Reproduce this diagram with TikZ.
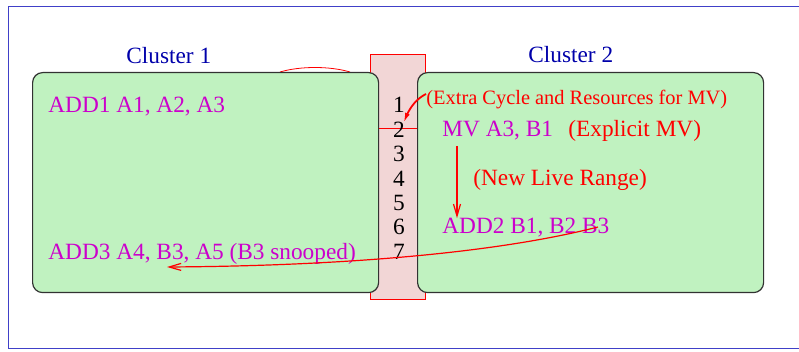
\documentclass[tikz,border=0pt]{standalone}
\usepackage{fontspec}
\setmainfont{Liberation Serif}
\usetikzlibrary{arrows.meta,bending}
\definecolor{clgreen}{RGB}{192,242,192}
\definecolor{regpink}{RGB}{242,214,214}
\definecolor{opmag}{RGB}{204,0,204}
\definecolor{cltitle}{RGB}{0,0,170}
\definecolor{framecol}{RGB}{64,64,200}
\definecolor{boxedge}{RGB}{50,50,50}
\begin{document}
\begin{tikzpicture}[x=0.5pt,y=-0.5pt,
  txt/.style={inner sep=0pt, anchor=base west, font=\fontsize{11.65}{14}\selectfont},
  op/.style={txt, text=opmag},
  note/.style={txt, text=red},
  title/.style={txt, text=cltitle},
  num/.style={inner sep=0pt, anchor=base, font=\fontsize{11.65}{14}\selectfont},
  cluster/.style={draw=boxedge, line width=0.6pt, fill=clgreen, rounded corners=5pt,
    inner sep=0pt, anchor=north west, minimum width=173pt, minimum height=110pt},
  flow/.style={red, line width=0.6pt, -{Straight Barb[length=6pt,width=3.5pt]}},
]
\useasboundingbox (0,0) rectangle (799,352);
% outer frame
\draw[framecol, line width=0.5pt] (8,7) rectangle (830,349);
% register bar between the clusters
\draw[red, fill=regpink, line width=0.5pt] (370,55) rectangle (425,300);
\draw[red, line width=0.4pt] (280,72) .. controls (300,66) and (330,66) .. (350,72);
% clusters
\node[cluster] (c1) at (32,72) {};
\node[cluster] (c2) at (417,72) {};
\draw[red, line width=0.5pt] (c1.east |- 0,129) -- (c2.west |- 0,129);
% cycle numbers
\foreach \i in {1,...,7}
  \node[num] (n\i) at (399, {113+24.4*(\i-1)}) {\i};
% titles
\node[title] (t1) at (126,64) {Cluster 1};
\node[title] (t2) at (528,63) {Cluster 2};
% instructions and notes
\node[op] (add1) at (48,113) {ADD1 A1, A2, A3};
\node[op] (add3) at (48,260) {ADD3 A4, B3, A5 (B3 snooped)};
\node[note, font=\fontsize{10.2}{12}\selectfont] (extra) at (426,105) {(Extra Cycle and Resources for MV)};
\node[op] (mv) at (442,137) {MV A3, B1};
\node[note] (expl) at (568,137) {(Explicit MV)};
\node[note] (live) at (473,186) {(New Live Range)};
\node[op] (add2) at (442,234) {ADD2 B1, B2 B3};
% connectors
\draw[flow] ([yshift=-2.5pt]mv.south -| 457,0) -- (add2.north -| 457,0);
\coordinate (snoopFrom) at (598,227);
\coordinate (snoopTo) at (167,267);
\draw[flow] (snoopFrom) .. controls (500,252) and (350,266) .. (snoopTo);
\coordinate (extraFrom) at (426,94);
\coordinate (extraTo) at (404,123);
\draw[red, line width=0.9pt, -{Latex[length=5pt,width=2.5pt,bend]}]
  (extraFrom) .. controls (414,100) and (407,112) .. (extraTo);
\end{tikzpicture}
\end{document}
